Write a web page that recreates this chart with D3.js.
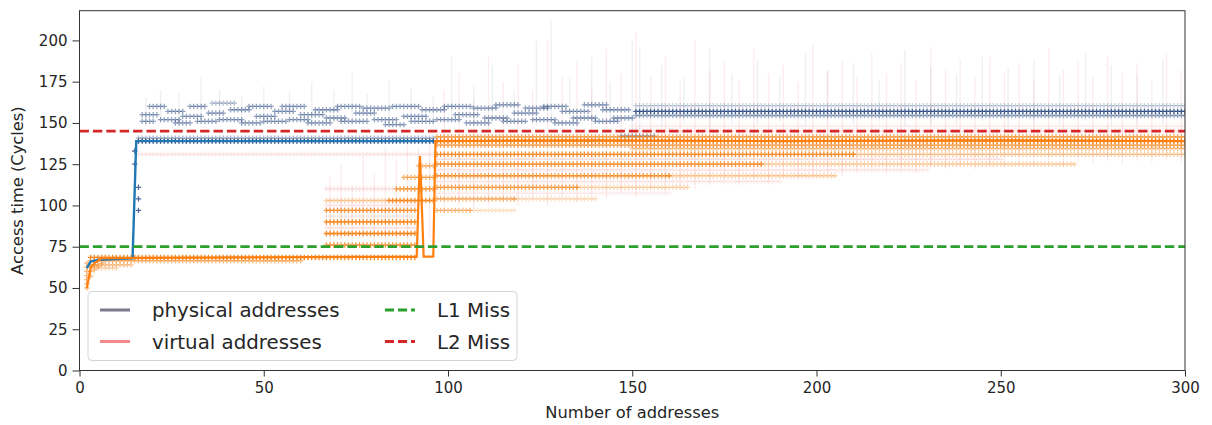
<!DOCTYPE html>
<html><head><meta charset="utf-8">
<script src="https://cdn.jsdelivr.net/npm/d3@7"></script>
<style>body{margin:0;background:#fff} svg{display:block;font-family:"DejaVu Sans",sans-serif}</style>
</head><body><svg id="chart" width="1212" height="425"></svg>
<script>
// ---- data ----
const xTicks = [0, 50, 100, 150, 200, 250, 300];
const yTicks = [0, 25, 50, 75, 100, 125, 150, 175, 200];
const xLimits = [0, 300];
const yLimits = [0, 218];
const l1Miss = 75;
const l2Miss = 145;

// median access time, vertices where the level changes
const physLineX = [2, 3, 5, 14.4, 15.4, 96];
const physLineY = [62, 66, 67, 68, 139, 139];
const virtLineX = [2, 3, 4, 6, 91.5, 92.4, 93.4, 96, 96.6, 140, 190, 240, 300];
const virtLineY = [50, 62, 65, 68, 69, 130, 69, 69, 139, 139.5, 139, 139.5, 139];

// repeated measurements: [first count, last count, cycles, density]
const physRows = [
  [16, 96, 139, 0.95], [16, 96, 140.8, 0.4],
  [17, 20, 151], [17, 21, 155], [19, 23, 160], [22, 27, 152], [24, 28, 157], [26, 30, 150],
  [28, 33, 154], [30, 34, 160], [32, 37, 151], [35, 39, 156], [36, 42, 162, 0.35], [38, 44, 152],
  [41, 46, 158], [44, 49, 150], [46, 52, 160], [48, 53, 154], [50, 56, 151], [53, 58, 157],
  [55, 61, 160], [57, 62, 152], [60, 66, 155], [62, 68, 150], [64, 70, 158], [67, 72, 153],
  [70, 76, 160], [71, 78, 151], [75, 80, 156], [77, 84, 159], [80, 86, 152], [83, 88, 149],
  [85, 92, 160], [88, 94, 154], [90, 96, 151], [93, 99, 158], [97, 103, 152], [99, 106, 160],
  [102, 108, 155], [105, 111, 150], [107, 113, 159], [110, 116, 153], [113, 119, 161], [115, 121, 151],
  [118, 124, 156], [121, 127, 159], [123, 129, 152], [126, 132, 160], [129, 135, 150], [131, 138, 157],
  [134, 140, 153], [137, 143, 161], [140, 146, 151], [142, 149, 158], [145, 150, 153],
  [147, 156, 142, 0.5],
  [151, 300, 157, 0.85], [151, 300, 154.5, 0.45], [151, 300, 160.5, 0.25]
];
const physPoints = [[16, 97], [16, 104], [16, 111], [15, 125], [15, 133]];

const virtRows = [
  [3, 91, 68.5, 0.9], [3, 60, 66.5, 0.5], [3, 14, 64, 0.45], [4, 10, 62, 0.3],
  [67, 91, 76, 0.8], [67, 91, 83, 0.9], [67, 91, 90, 0.9], [67, 91, 97, 0.8],
  [67, 83, 103, 0.35], [84, 96, 103, 0.85], [86, 96, 110, 0.75],
  [88, 96, 117, 0.6], [92, 96, 124, 0.55],
  [97, 300, 139, 0.95], [97, 300, 141.5, 0.7], [97, 300, 136.5, 0.65], [150, 300, 134.5, 0.4],
  [97, 210, 131, 0.85], [210, 300, 131, 0.4],
  [97, 185, 125, 0.8], [185, 270, 125, 0.35],
  [97, 160, 118, 0.75], [160, 205, 118, 0.35],
  [97, 135, 111, 0.7], [135, 165, 111, 0.3],
  [97, 118, 104, 0.6], [118, 140, 104, 0.25],
  [97, 106, 97, 0.5], [106, 118, 97, 0.2]
];
const virtPoints = [[2, 50], [2, 52.5], [2, 55], [2, 57.5], [2, 60], [2, 62.5], [2, 65],
  [3, 57], [3, 60], [3, 63], [4, 61], [4, 64], [5, 63], [6, 65]];

// rarer virtual-address outcomes between the main levels
const virtFaintRows = [
  [16, 96, 131, 0.18], [67, 91, 86.5, 0.15], [67, 91, 93.5, 0.15], [67, 91, 100, 0.15],
  [67, 85, 110, 0.2], [97, 250, 128, 0.16], [97, 230, 121.5, 0.16], [97, 190, 114.5, 0.14],
  [97, 160, 107.5, 0.12], [150, 300, 145, 0.15], [150, 300, 148, 0.1]
];

// spread of single samples: [count, lowest, highest]
const physStreaks = [
  [18, 148, 165], [22, 150, 170], [27, 147, 168], [33, 150, 178], [38, 152, 170], [44, 148, 166],
  [50, 150, 172], [57, 152, 169], [63, 149, 175], [69, 150, 170], [74, 148, 180], [78, 152, 168],
  [84, 150, 176], [90, 151, 171], [96, 148, 166], [101, 152, 190], [107, 150, 172], [112, 149, 185],
  [118, 151, 170], [124, 148, 200], [128, 150, 212], [133, 152, 178], [139, 149, 190], [144, 150, 175],
  [150, 135, 200], [152, 140, 196], [158, 148, 185], [164, 150, 178], [171, 148, 195], [177, 150, 180],
  [184, 149, 188], [190, 151, 178], [197, 148, 192], [203, 150, 182], [210, 149, 186], [217, 151, 176],
  [224, 148, 194], [231, 150, 184], [238, 149, 180], [245, 151, 190], [252, 148, 183], [259, 150, 188],
  [266, 149, 179], [273, 151, 192], [280, 148, 185], [287, 150, 180], [294, 149, 189]
];
const virtStreaks = [
  [68, 78, 118], [71, 80, 125], [74, 78, 112], [77, 80, 130], [80, 79, 120], [83, 78, 135],
  [86, 80, 128], [89, 78, 140], [92, 70, 135], [95, 80, 140], [99, 95, 170], [103, 100, 180],
  [107, 98, 165], [111, 100, 190], [115, 102, 175], [119, 100, 185], [123, 104, 170], [127, 100, 200],
  [131, 105, 178], [135, 102, 188], [139, 106, 172], [143, 104, 195], [147, 108, 180], [151, 105, 205],
  [155, 110, 178], [159, 108, 190], [163, 112, 175], [167, 110, 200], [171, 112, 182], [175, 115, 188],
  [179, 112, 176], [183, 116, 195], [187, 114, 180], [191, 118, 185], [195, 115, 175], [199, 118, 198],
  [203, 120, 182], [207, 118, 188], [211, 120, 178], [215, 122, 192], [219, 120, 180], [223, 122, 186],
  [227, 120, 176], [231, 124, 196], [235, 122, 182], [239, 124, 188], [243, 122, 178], [247, 125, 190],
  [251, 123, 180], [255, 125, 186], [259, 124, 176], [263, 126, 195], [267, 124, 182], [271, 126, 188],
  [275, 125, 178], [279, 127, 190], [283, 125, 180], [287, 127, 186], [291, 126, 176], [295, 128, 192],
  [299, 126, 182]
];

const legendItems = [
  {label: "physical addresses", color: "#7a7a8e", dash: null, col: 0, row: 0},
  {label: "virtual addresses", color: "#f38a8a", dash: null, col: 0, row: 1},
  {label: "L1 Miss", color: "#2ca02c", dash: "9,4", col: 1, row: 0},
  {label: "L2 Miss", color: "#d62728", dash: "9,4", col: 1, row: 1}
];

// ---- layout ----
const svg = d3.select("#chart");
const W = 1212, H = 425;
const m = {left: 79.5, right: 27, top: 10.7, bottom: 54.5};
const x = d3.scaleLinear().domain(xLimits).range([m.left, W - m.right]);
const y = d3.scaleLinear().domain(yLimits).range([H - m.bottom, m.top]);

svg.append("defs").append("clipPath").attr("id", "plot")
  .append("rect").attr("x", m.left).attr("y", m.top)
  .attr("width", W - m.left - m.right).attr("height", H - m.top - m.bottom);

const plot = svg.append("g").attr("clip-path", "url(#plot)");

// faint sample spreads
function streaks(data, color, op) {
  plot.append("g").selectAll("line").data(data).join("line")
    .attr("x1", d => x(d[0])).attr("x2", d => x(d[0]))
    .attr("y1", d => y(d[1])).attr("y2", d => y(d[2]))
    .attr("stroke", color).attr("stroke-width", 1.4).attr("opacity", op);
}
streaks(physStreaks, "#8a93ad", 0.13);
streaks(virtStreaks, "#f08a8a", 0.14);

function expand(rows) {
  const pts = [];
  rows.forEach(([a, b, v, o]) => {
    for (let n = a; n <= b; n++) pts.push([n, v, o === undefined ? 0.5 : o]);
  });
  return pts;
}
function plus(d) {
  const px = x(d[0]), py = y(d[1]);
  return `M${px - 2.7},${py}h5.4M${px},${py - 2.7}v5.4`;
}
function markers(data, color) {
  plot.append("g").selectAll("path").data(data).join("path")
    .attr("d", plus).attr("stroke", color).attr("stroke-width", 1.3)
    .attr("fill", "none").attr("opacity", d => d[2]);
}

markers(expand(virtFaintRows), "#f07878");
markers(expand(physRows).concat(physPoints.map(p => [p[0], p[1], 0.8])), "#26467f");
markers(expand(virtRows).concat(virtPoints.map(p => [p[0], p[1], 0.55])), "#f57d0c");

// median lines
const line = d3.line().x(d => x(d[0])).y(d => y(d[1]));
plot.append("path").datum(physLineX.map((v, i) => [v, physLineY[i]]))
  .attr("d", line).attr("fill", "none").attr("stroke", "#1f77b4").attr("stroke-width", 2.4);
plot.append("path").datum(virtLineX.map((v, i) => [v, virtLineY[i]]))
  .attr("d", line).attr("fill", "none").attr("stroke", "#ff7f0e").attr("stroke-width", 2.2);

// cache miss thresholds
[[l1Miss, "#2ca02c"], [l2Miss, "#d62728"]].forEach(([v, c]) => {
  plot.append("line").attr("x1", x(xLimits[0])).attr("x2", x(xLimits[1]))
    .attr("y1", y(v)).attr("y2", y(v))
    .attr("stroke", c).attr("stroke-width", 2.7).attr("stroke-dasharray", "9.4,4");
});

// axes
const xAxis = svg.append("g").attr("transform", `translate(0,${H - m.bottom})`)
  .call(d3.axisBottom(x).tickValues(xTicks).tickSize(6).tickPadding(6).tickFormat(d3.format("d")));
const yAxis = svg.append("g").attr("transform", `translate(${m.left},0)`)
  .call(d3.axisLeft(y).tickValues(yTicks).tickSize(7).tickPadding(5).tickFormat(d3.format("d")));
[xAxis, yAxis].forEach(a => {
  a.select(".domain").remove();
  a.selectAll(".tick line").attr("stroke", "#333").attr("stroke-width", 1);
  a.selectAll(".tick text").attr("fill", "#262626").style("font-size", "15px")
    .style("font-family", "DejaVu Sans");
});

// frame
svg.append("rect").attr("x", m.left).attr("y", m.top)
  .attr("width", W - m.left - m.right).attr("height", H - m.top - m.bottom)
  .attr("fill", "none").attr("stroke", "#333").attr("stroke-width", 1);

// axis titles
svg.append("text").attr("x", x(150)).attr("y", 418).attr("text-anchor", "middle")
  .style("font-size", "16.3px").attr("fill", "#262626").text("Number of addresses");
svg.append("text").attr("transform", `translate(23,${y(109)}) rotate(-90)`)
  .attr("text-anchor", "middle").style("font-size", "16.3px").attr("fill", "#262626")
  .text("Access time (Cycles)");

// legend
const lg = svg.append("g");
lg.append("rect").attr("x", 88).attr("y", 291.5).attr("width", 429).attr("height", 69)
  .attr("rx", 4).attr("fill", "#fff").attr("fill-opacity", 0.8)
  .attr("stroke", "#d4d4d4").attr("stroke-width", 1);
const colX = [100, 385];
const rowY = [310, 341.5];
legendItems.forEach(it => {
  const lx = colX[it.col], ly = rowY[it.row];
  lg.append("line").attr("x1", lx).attr("x2", lx + 30).attr("y1", ly).attr("y2", ly)
    .attr("stroke", it.color).attr("stroke-width", 3)
    .attr("stroke-dasharray", it.dash);
  lg.append("text").attr("x", lx + 52).attr("y", ly + 7)
    .style("font-size", "19.8px").attr("fill", "#262626").text(it.label);
});
</script></body></html>
